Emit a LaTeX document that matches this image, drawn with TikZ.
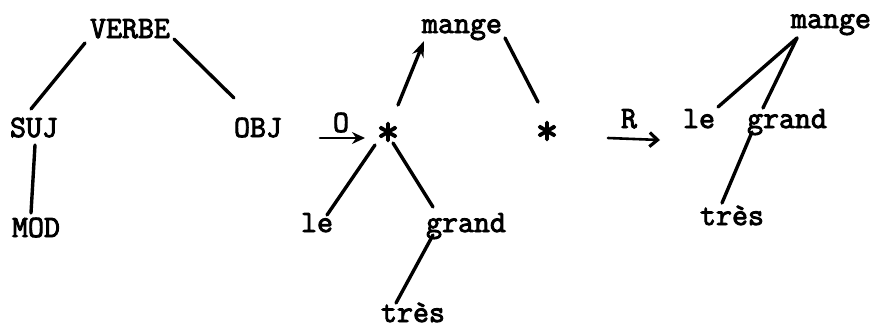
\documentclass[tikz,border=0pt]{standalone}
\usepackage{fontspec}
\newfontfamily\twfont[FakeBold=3]{Latin Modern Mono}
\usetikzlibrary{arrows.meta}
\begin{document}
\begin{tikzpicture}[x=1pt,y=-1pt,
  lbl/.style={inner sep=0pt,outer sep=0pt,anchor=base,font=\fontsize{31}{32}\selectfont\twfont},
  starnode/.style={inner sep=0pt,outer sep=0pt,anchor=center,font=\fontsize{44}{44}\selectfont\twfont},
  edge/.style={line width=3.4pt,line cap=round},
  arr/.style={line width=2.6pt,line cap=round}]
\useasboundingbox (0,0) rectangle (879,330);
% left tree
\node[lbl] (verbe) at (130,38) {VERBE};
\node[lbl] (suj) at (34,137) {SUJ};
\node[lbl] (obj) at (258,137) {OBJ};
\node[lbl] (mod) at (36,237) {MOD};
\draw[edge] ([shift={(-45,5)}]verbe.base) -- ([shift={(-3,-28)}]suj.base);
\draw[edge] ([shift={(44,1)}]verbe.base) -- ([shift={(-24,-39)}]obj.base);
\draw[edge] ([shift={(1,8)}]suj.base) -- ([shift={(-5,-24)}]mod.base);
% O arrow
\coordinate (oa) at (320,138);
\coordinate (ob) at (365,138);
\draw[arr,-{Stealth[length=13pt,width=12pt]}] (oa) -- (ob);
\node[lbl] (olab) at (341,132) {O};
% middle tree
\node[lbl] (mange1) at (462,33) {mange};
\node[starnode] (star1) at (388,134) {*};
\node[starnode] (star2) at (547,133) {*};
\node[lbl] (le1) at (317,232) {le};
\node[lbl] (grand1) at (466,232) {grand};
\node[lbl] (tres1) at (413,322) {très};
\draw[edge,-{Stealth[length=16pt,width=12pt]}] ([shift={(10,-29)}]star1.center) -- ([shift={(-38,8)}]mange1.base);
\draw[edge] ([shift={(43,5)}]mange1.base) -- ([shift={(-9,-31)}]star2.center);
\draw[edge] ([shift={(-13,11)}]star1.center) -- ([shift={(10,-17)}]le1.base);
\draw[edge] ([shift={(5,9)}]star1.center) -- ([shift={(-33,-25)}]grand1.base);
\draw[edge] ([shift={(-33,3)}]grand1.base) -- ([shift={(-17,-19)}]tres1.base);
% R arrow
\coordinate (ra) at (608,138);
\coordinate (rb) at (660,140);
\draw[arr,-{Straight Barb[length=8pt,width=14pt,line width=3.2pt]}] (ra) -- (rb);
\node[lbl] (rlab) at (629,128) {R};
% right tree
\node[lbl] (mange2) at (831,28) {mange};
\node[lbl] (le2) at (699,128) {le};
\node[lbl] (grand2) at (787,128) {grand};
\node[lbl] (tres2) at (732,225) {très};
\draw[edge] ([shift={(-34,10)}]mange2.base) -- ([shift={(19,-21)}]le2.base);
\draw[edge] ([shift={(-34,10)}]mange2.base) -- ([shift={(-24,-20)}]grand2.base);
\draw[edge] ([shift={(-35,4)}]grand2.base) -- ([shift={(-10,-22)}]tres2.base);
\end{tikzpicture}
\end{document}
